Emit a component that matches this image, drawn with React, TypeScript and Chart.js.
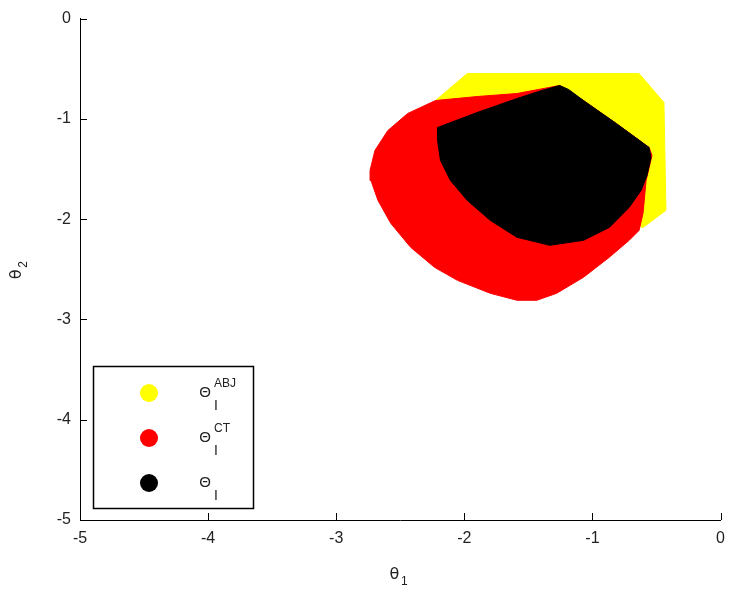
import React, { useEffect, useRef } from "react";
import { Chart, registerables } from "chart.js";

Chart.register(...registerables);

// Axis ticks
const xTicks = [-5, -4, -3, -2, -1, 0];
const yTicks = [0, -1, -2, -3, -4, -5];

// Θ_I^ABJ region (yellow)
const abjX = [-2.225, -1.977, -0.636, -0.442, -0.426, -0.605, -0.969, -1.744, -2.225];
const abjY = [-0.817, -0.548, -0.548, -0.837, -1.912, -2.082, -1.962, -1.315, -0.817];

// Θ_I^CT region (red)
const ctX = [-2.225, -1.899, -1.589, -1.256, -1.07, -0.814, -0.558, -0.535, -0.581, -0.605, -0.636, -0.713, -0.868, -1.07, -1.279, -1.434, -1.589, -1.798, -2.054, -2.233, -2.419, -2.574, -2.674, -2.729, -2.736, -2.698, -2.597, -2.442, -2.225];
const ctY = [-0.817, -0.777, -0.747, -0.667, -0.817, -1.046, -1.285, -1.365, -1.614, -1.942, -2.112, -2.211, -2.38, -2.58, -2.739, -2.809, -2.809, -2.739, -2.61, -2.48, -2.281, -2.042, -1.813, -1.614, -1.514, -1.315, -1.116, -0.946, -0.817];

// Θ_I region (black)
const thX = [-2.209, -1.899, -1.589, -1.395, -1.256, -1.186, -1.07, -0.814, -0.558, -0.543, -0.574, -0.62, -0.713, -0.868, -1.07, -1.333, -1.589, -1.798, -1.977, -2.109, -2.186, -2.209, -2.209];
const thY = [-1.086, -0.936, -0.797, -0.717, -0.667, -0.707, -0.817, -1.046, -1.285, -1.384, -1.564, -1.713, -1.882, -2.082, -2.211, -2.261, -2.181, -2.012, -1.813, -1.614, -1.414, -1.215, -1.086];

const legendSups = ["ABJ", "CT", ""];
const legendColors = ["#ffff00", "#ff0000", "#000000"];

const pts = (xs: number[], ys: number[]) => xs.map((x, i) => ({ x, y: ys[i] }));

const decorPlugin = {
  id: "decor",
  afterDraw(chart: any) {
    const ctx = chart.ctx as CanvasRenderingContext2D;
    const { left, right, top, bottom } = chart.chartArea;
    const xs = chart.scales.x;
    const ys = chart.scales.y;
    ctx.save();
    // inward tick marks
    ctx.strokeStyle = "#000";
    ctx.lineWidth = 1;
    ctx.beginPath();
    xTicks.forEach((v) => {
      const px = Math.round(xs.getPixelForValue(v)) + 0.5;
      ctx.moveTo(px, bottom);
      ctx.lineTo(px, bottom - 7);
    });
    yTicks.forEach((v) => {
      const py = Math.round(ys.getPixelForValue(v)) + 0.5;
      ctx.moveTo(left, py);
      ctx.lineTo(left + 7, py);
    });
    ctx.stroke();

    // axis labels
    ctx.fillStyle = "#222";
    ctx.textAlign = "center";
    ctx.textBaseline = "middle";
    const cx = (left + right) / 2 - 6;
    ctx.font = "16px 'DejaVu Sans'";
    ctx.fillText("θ", cx, bottom + 55);
    ctx.font = "12px 'Liberation Sans'";
    ctx.fillText("1", cx + 10, bottom + 62);

    ctx.save();
    ctx.translate(left - 58, (top + bottom) / 2);
    ctx.rotate(-Math.PI / 2);
    ctx.font = "16px 'DejaVu Sans'";
    ctx.fillText("θ", -5, -5);
    ctx.font = "12px 'Liberation Sans'";
    ctx.fillText("2", 5, 2);
    ctx.restore();

    // legend
    const bx = left + 13;
    const by = bottom - 154;
    ctx.fillStyle = "#fff";
    ctx.fillRect(bx, by, 160, 142);
    ctx.strokeStyle = "#000";
    ctx.lineWidth = 1.5;
    ctx.strokeRect(bx + 0.5, by + 0.5, 160, 142);
    legendColors.forEach((c, i) => {
      const my = by + 27 + i * 45;
      ctx.fillStyle = c;
      ctx.beginPath();
      ctx.arc(bx + 56, my, 9, 0, Math.PI * 2);
      ctx.fill();
      ctx.fillStyle = "#222";
      ctx.textAlign = "center";
      ctx.font = "15px 'Liberation Sans'";
      ctx.fillText("Θ", bx + 112, my);
      ctx.textAlign = "left";
      ctx.font = "14px 'Liberation Sans'";
      ctx.fillText("I", bx + 121, my + 13);
      if (legendSups[i]) {
        ctx.font = "12px 'Liberation Sans'";
        ctx.fillText(legendSups[i], bx + 121, my - 9);
      }
    });
    ctx.restore();
  },
};

export default function App() {
  const ref = useRef<HTMLCanvasElement | null>(null);
  useEffect(() => {
    if (!ref.current) return;
    const mk = (label: string, xs: number[], ys: number[], color: string, order: number) => ({
      label,
      data: pts(xs, ys),
      showLine: true,
      fill: "shape",
      backgroundColor: color,
      borderColor: color,
      borderWidth: 1,
      pointRadius: 0,
      tension: 0,
      order,
    });
    const chart = new Chart(ref.current, {
      type: "scatter",
      data: {
        datasets: [
          mk("Θ_I", thX, thY, "#000000", 1),
          mk("Θ_I^CT", ctX, ctY, "#ff0000", 2),
          mk("Θ_I^ABJ", abjX, abjY, "#ffff00", 3),
        ] as any,
      },
      options: {
        animation: false,
        responsive: false,
        layout: { padding: { top: 18, right: 9, left: 0, bottom: 0 } },
        plugins: { legend: { display: false }, tooltip: { enabled: false } },
        scales: {
          x: {
            type: "linear",
            min: -5,
            max: 0,
            afterBuildTicks: (s: any) => {
              s.ticks = xTicks.map((v) => ({ value: v }));
            },
            afterFit: (s: any) => {
              s.height = 77;
            },
            ticks: {
              font: { family: "'Liberation Sans'", size: 16 },
              color: "#222",
              padding: 9,
              maxRotation: 0,
              callback: (v: any) => String(v),
            },
            grid: { display: false, drawTicks: false },
            border: { display: true, color: "#000", width: 1 },
          },
          y: {
            type: "linear",
            min: -5,
            max: 0,
            afterBuildTicks: (s: any) => {
              s.ticks = yTicks.map((v) => ({ value: v }));
            },
            afterFit: (s: any) => {
              s.width = 80;
            },
            ticks: {
              font: { family: "'Liberation Sans'", size: 16 },
              color: "#222",
              padding: 9,
              callback: (v: any) => String(v),
            },
            grid: { display: false, drawTicks: false },
            border: { display: true, color: "#000", width: 1 },
          },
        },
      },
      plugins: [decorPlugin],
    } as any);
    return () => chart.destroy();
  }, []);
  return (
    <div style={{ position: "absolute", left: 0, top: 0, width: 734, height: 597, background: "#fff" }}>
      <canvas ref={ref} width={734} height={597} />
    </div>
  );
}
